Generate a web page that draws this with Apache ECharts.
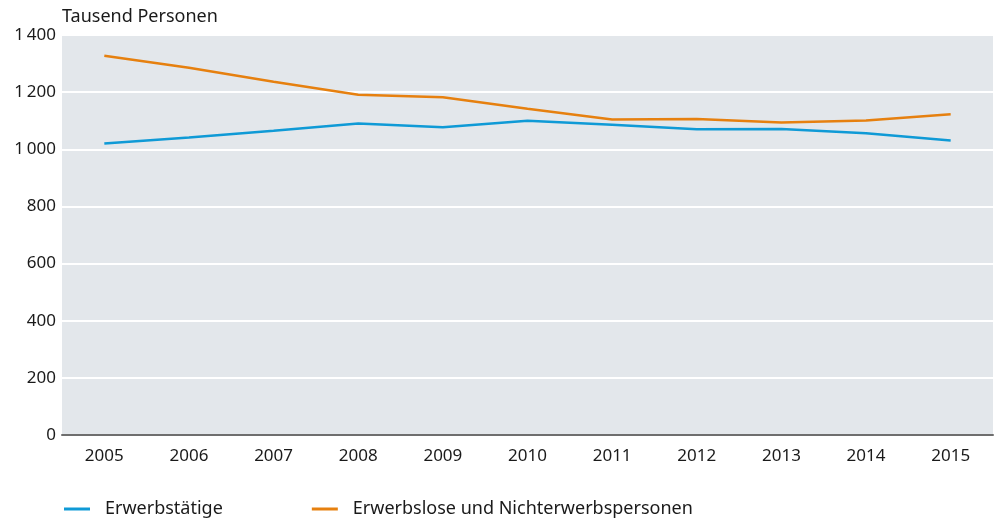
<!DOCTYPE html>
<html>
<head>
<meta charset="utf-8">
<script src="https://cdn.jsdelivr.net/npm/echarts@6/dist/echarts.min.js"></script>
<style>
  html, body { margin: 0; padding: 0; background: #fff; }
  #chart { width: 996px; height: 522px; }
</style>
</head>
<body>
<div id="chart"></div>
<script>
// Years on the x axis
const years = ['2005', '2006', '2007', '2008', '2009', '2010', '2011', '2012', '2013', '2014', '2015'];
// Thousand persons
const erwerbstaetige = [1020, 1041, 1065, 1090, 1077, 1100, 1086, 1070, 1071, 1056, 1031];
const erwerbslose = [1327, 1285, 1236, 1191, 1182, 1142, 1104, 1106, 1094, 1101, 1123];
const seriesNames = ['Erwerbstätige', 'Erwerbslose und Nichterwerbspersonen'];
const unitLabel = 'Tausend Personen';

const FONT = '"Noto Sans", sans-serif';
const TEXT = '#1a1a1a';

const chart = echarts.init(document.getElementById('chart'), null, { renderer: 'canvas' });

// thousands separated by a narrow space: 1 400
const fmt = v => v >= 1000 ? String(v).replace(/(\d)(\d{3})$/, '$1\u202F$2') : String(v);

chart.setOption({
  animation: false,
  textStyle: { fontFamily: FONT, color: TEXT },
  title: {
    text: unitLabel,
    left: 57, top: 3,
    textStyle: { fontFamily: FONT, fontSize: 18, fontWeight: 'normal', color: TEXT }
  },
  grid: {
    left: 62, right: 3, top: 35, bottom: 87,
    show: true, backgroundColor: '#e3e7eb', borderWidth: 0
  },
  legend: {
    left: 64, top: 500, padding: 0,
    itemGap: 89,
    itemWidth: 26, itemHeight: 3,
    icon: 'rect',
    textStyle: { fontFamily: FONT, fontSize: 18, color: TEXT, padding: [0, 0, 0, 10] },
    data: seriesNames
  },
  xAxis: {
    type: 'category',
    data: years,
    boundaryGap: true,
    axisLine: { show: true, lineStyle: { color: '#6e6e6e', width: 2 } },
    axisTick: { show: false },
    axisLabel: { fontFamily: FONT, fontSize: 17, color: TEXT, margin: 13 }
  },
  yAxis: {
    type: 'value',
    min: 0, max: 1400, interval: 200,
    axisLine: { show: false },
    axisTick: { show: false },
    splitLine: { show: true, lineStyle: { color: '#ffffff', width: 2 } },
    axisLabel: { fontFamily: FONT, fontSize: 17, color: TEXT, margin: 6, formatter: fmt }
  },
  series: [
    {
      name: seriesNames[0], type: 'line', data: erwerbstaetige,
      symbol: 'none', lineStyle: { color: '#0f9ad6', width: 2.5 },
      itemStyle: { color: '#0f9ad6' }
    },
    {
      name: seriesNames[1], type: 'line', data: erwerbslose,
      symbol: 'none', lineStyle: { color: '#e6800f', width: 2.5 },
      itemStyle: { color: '#e6800f' }
    }
  ]
});
</script>
</body>
</html>
